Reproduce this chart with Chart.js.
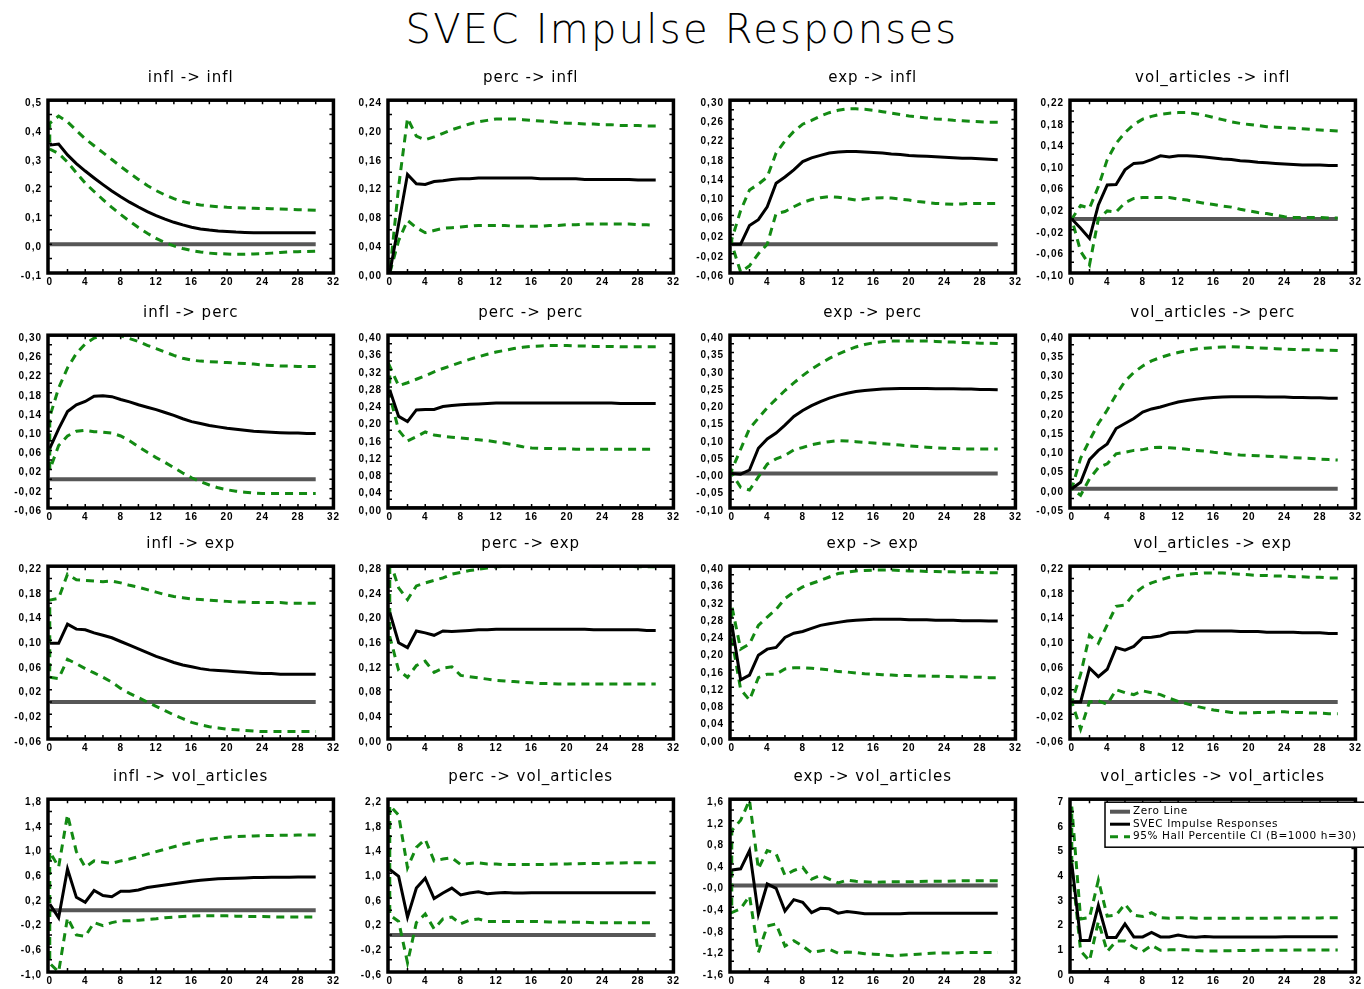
<!DOCTYPE html>
<html>
<head>
<meta charset="utf-8">
<title>SVEC Impulse Responses</title>
<script src="https://cdn.jsdelivr.net/npm/chart.js@4.4.1/dist/chart.umd.min.js"></script>
<style>
  html, body { margin: 0; padding: 0; background: #fff; }
  body { width: 1364px; height: 989px; position: relative; overflow: hidden; }
  #mainTitle {
    position: absolute; left: 0; top: 5px; width: 1364px; text-align: center;
    font-family: "DejaVu Sans ExtraLight", "DejaVu Sans", sans-serif; font-weight: 200;
    font-size: 40px; line-height: 48px; letter-spacing: 2.3px; color: #000;
  }
  canvas { position: absolute; }
</style>
</head>
<body>
<div id="mainTitle">SVEC Impulse Responses</div>
<script>
// ---- horizons and axis labels ----
const horizons = [0,1,2,3,4,5,6,7,8,9,10,11,12,13,14,15,16,17,18,19,20,21,22,23,24,25,26,27,28,29,30];
const xTickLabels = ['0','4','8','12','16','20','24','28','32'];
const variables = ['infl', 'perc', 'exp', 'vol_articles'];

// ---- y tick labels per response/impulse panel ----
const yTicks_infl_infl = ['-0,1','0,0','0,1','0,2','0,3','0,4','0,5'];
const yTicks_perc_infl = ['0,00','0,04','0,08','0,12','0,16','0,20','0,24'];
const yTicks_exp_infl  = ['-0,06','-0,02','0,02','0,06','0,10','0,14','0,18','0,22','0,26','0,30'];
const yTicks_vol_infl  = ['-0,10','-0,06','-0,02','0,02','0,06','0,10','0,14','0,18','0,22'];
const yTicks_infl_perc = ['-0,06','-0,02','0,02','0,06','0,10','0,14','0,18','0,22','0,26','0,30'];
const yTicks_perc_perc = ['0,00','0,04','0,08','0,12','0,16','0,20','0,24','0,28','0,32','0,36','0,40'];
const yTicks_exp_perc  = ['-0,10','-0,05','-0,00','0,05','0,10','0,15','0,20','0,25','0,30','0,35','0,40'];
const yTicks_vol_perc  = ['-0,05','0,00','0,05','0,10','0,15','0,20','0,25','0,30','0,35','0,40'];
const yTicks_infl_exp  = ['-0,06','-0,02','0,02','0,06','0,10','0,14','0,18','0,22'];
const yTicks_perc_exp  = ['0,00','0,04','0,08','0,12','0,16','0,20','0,24','0,28'];
const yTicks_exp_exp   = ['0,00','0,04','0,08','0,12','0,16','0,20','0,24','0,28','0,32','0,36','0,40'];
const yTicks_vol_exp   = ['-0,06','-0,02','0,02','0,06','0,10','0,14','0,18','0,22'];
const yTicks_infl_vol  = ['-1,0','-0,6','-0,2','0,2','0,6','1,0','1,4','1,8'];
const yTicks_perc_vol  = ['-0,6','-0,2','0,2','0,6','1,0','1,4','1,8','2,2'];
const yTicks_exp_vol   = ['-1,6','-1,2','-0,8','-0,4','-0,0','0,4','0,8','1,2','1,6'];
const yTicks_vol_vol   = ['0','1','2','3','4','5','6','7'];

// ---- impulse responses (impulse_response) and 95% Hall percentile bands ----
const irf_infl_infl  = [0.344,0.348,0.31,0.28,0.254,0.23,0.207,0.185,0.165,0.146, 0.129,0.113,0.099,0.087,0.076,0.067,0.059,0.053,0.049,0.046, 0.044,0.042,0.041,0.04,0.04,0.04,0.04,0.04,0.04,0.04, 0.04];
const ciHi_infl_infl = [0.42,0.445,0.425,0.395,0.366,0.342,0.318,0.294,0.27,0.247, 0.225,0.204,0.186,0.171,0.158,0.148,0.141,0.136,0.133,0.13, 0.128,0.127,0.126,0.125,0.124,0.123,0.122,0.121,0.12,0.119, 0.118];
const ciLo_infl_infl = [0.33,0.315,0.285,0.248,0.212,0.183,0.155,0.128,0.103,0.08, 0.058,0.038,0.02,0.006,-0.006,-0.015,-0.022,-0.027,-0.031,-0.033, -0.034,-0.035,-0.035,-0.034,-0.033,-0.031,-0.029,-0.027,-0.026,-0.025, -0.024];

const irf_perc_infl  = [0.0,0.068,0.137,0.124,0.123,0.127,0.128,0.13,0.131,0.131, 0.132,0.132,0.132,0.132,0.132,0.132,0.132,0.131,0.131,0.131, 0.131,0.131,0.13,0.13,0.13,0.13,0.13,0.13,0.129,0.129, 0.129];
const ciHi_perc_infl = [0.0,0.12,0.215,0.19,0.185,0.189,0.194,0.199,0.203,0.207, 0.21,0.212,0.214,0.214,0.214,0.213,0.212,0.211,0.21,0.209, 0.208,0.208,0.207,0.207,0.206,0.206,0.205,0.205,0.205,0.204, 0.204];
const ciLo_perc_infl = [0.0,0.045,0.073,0.063,0.056,0.059,0.062,0.063,0.064,0.065, 0.066,0.066,0.066,0.066,0.065,0.065,0.065,0.065,0.066,0.066, 0.067,0.067,0.068,0.068,0.068,0.068,0.068,0.068,0.067,0.067, 0.066];

const irf_exp_infl  = [0.0,0.0,0.039,0.051,0.078,0.127,0.14,0.155,0.172,0.18, 0.185,0.19,0.192,0.193,0.193,0.192,0.191,0.19,0.188,0.187, 0.185,0.184,0.183,0.182,0.181,0.18,0.179,0.179,0.178,0.177, 0.176];
const ciHi_exp_infl = [0.01,0.07,0.113,0.125,0.14,0.19,0.215,0.235,0.25,0.258, 0.267,0.274,0.279,0.282,0.282,0.281,0.279,0.276,0.273,0.27, 0.267,0.265,0.263,0.261,0.26,0.258,0.257,0.256,0.255,0.254, 0.254];
const ciLo_exp_infl = [0.0,-0.058,-0.045,-0.02,0.0,0.064,0.068,0.078,0.087,0.093, 0.097,0.099,0.098,0.095,0.092,0.094,0.096,0.097,0.096,0.094, 0.092,0.089,0.087,0.085,0.084,0.083,0.084,0.085,0.085,0.085, 0.085];

const irf_vol_infl  = [0.0,-0.017,-0.036,0.026,0.063,0.064,0.091,0.103,0.104,0.11, 0.117,0.115,0.117,0.117,0.116,0.115,0.113,0.111,0.11,0.108, 0.107,0.105,0.104,0.103,0.102,0.101,0.1,0.1,0.1,0.099, 0.099];
const ciHi_vol_infl = [0.0,0.025,0.02,0.06,0.11,0.14,0.16,0.175,0.185,0.19, 0.194,0.196,0.197,0.197,0.195,0.192,0.188,0.184,0.18,0.177, 0.175,0.173,0.171,0.17,0.169,0.168,0.167,0.166,0.165,0.164, 0.163];
const ciLo_vol_infl = [0.0,-0.06,-0.085,0.0,0.015,0.013,0.03,0.038,0.04,0.04, 0.04,0.04,0.037,0.035,0.032,0.029,0.027,0.024,0.022,0.018, 0.015,0.012,0.01,0.007,0.004,0.003,0.003,0.003,0.003,0.002, 0.002];

const irf_infl_perc  = [0.064,0.105,0.141,0.155,0.162,0.173,0.174,0.172,0.166,0.161, 0.155,0.15,0.145,0.139,0.133,0.126,0.12,0.116,0.112,0.109, 0.106,0.104,0.102,0.1,0.099,0.098,0.097,0.096,0.096,0.095, 0.095];
const ciHi_infl_perc = [0.13,0.19,0.232,0.262,0.282,0.294,0.3,0.302,0.299,0.293, 0.287,0.279,0.272,0.265,0.258,0.252,0.248,0.246,0.245,0.244, 0.243,0.242,0.241,0.24,0.238,0.237,0.236,0.236,0.235,0.235, 0.235];
const ciLo_infl_perc = [0.02,0.07,0.09,0.1,0.102,0.099,0.098,0.096,0.09,0.08, 0.068,0.056,0.045,0.035,0.024,0.013,0.003,-0.005,-0.012,-0.018, -0.022,-0.025,-0.027,-0.029,-0.03,-0.03,-0.03,-0.03,-0.03,-0.03, -0.03];

const irf_perc_perc  = [0.273,0.212,0.2,0.227,0.228,0.228,0.235,0.237,0.239,0.24, 0.241,0.242,0.243,0.243,0.243,0.243,0.243,0.243,0.243,0.243, 0.243,0.243,0.243,0.243,0.243,0.243,0.242,0.242,0.242,0.242, 0.242];
const ciHi_perc_perc = [0.328,0.283,0.29,0.298,0.306,0.315,0.323,0.33,0.337,0.344, 0.35,0.356,0.361,0.365,0.369,0.372,0.374,0.375,0.376,0.376, 0.376,0.375,0.375,0.374,0.374,0.374,0.373,0.373,0.373,0.373, 0.373];
const ciLo_perc_perc = [0.26,0.18,0.155,0.165,0.176,0.169,0.166,0.164,0.162,0.16, 0.158,0.156,0.153,0.15,0.146,0.142,0.139,0.138,0.138,0.137, 0.137,0.136,0.136,0.136,0.136,0.136,0.136,0.136,0.136,0.136, 0.136];

const irf_exp_perc  = [0.0,-0.002,0.01,0.073,0.1,0.117,0.14,0.165,0.182,0.196, 0.208,0.218,0.226,0.232,0.237,0.24,0.242,0.244,0.245,0.246, 0.246,0.246,0.246,0.245,0.245,0.245,0.244,0.244,0.243,0.243, 0.242];
const ciHi_exp_perc = [0.01,0.07,0.13,0.16,0.19,0.215,0.24,0.262,0.283,0.302, 0.318,0.333,0.345,0.356,0.366,0.373,0.378,0.381,0.383,0.383, 0.383,0.383,0.383,0.382,0.381,0.38,0.379,0.378,0.377,0.377, 0.376];
const ciLo_exp_perc = [0.0,-0.04,-0.048,-0.01,0.027,0.042,0.052,0.068,0.075,0.083, 0.088,0.092,0.095,0.094,0.092,0.09,0.088,0.086,0.084,0.082, 0.08,0.078,0.076,0.074,0.073,0.072,0.071,0.071,0.071,0.071, 0.071];

const irf_vol_perc  = [0.0,0.017,0.076,0.1,0.117,0.157,0.17,0.183,0.2,0.208, 0.213,0.22,0.226,0.23,0.233,0.236,0.238,0.239,0.24,0.24, 0.24,0.24,0.239,0.239,0.239,0.238,0.238,0.237,0.237,0.236, 0.236];
const ciHi_vol_perc = [0.0,0.08,0.126,0.17,0.205,0.245,0.28,0.303,0.32,0.333, 0.342,0.349,0.355,0.36,0.364,0.366,0.368,0.369,0.37,0.369, 0.368,0.367,0.366,0.365,0.364,0.363,0.362,0.362,0.361,0.361, 0.36];
const ciLo_vol_perc = [0.0,-0.017,0.026,0.055,0.065,0.091,0.095,0.1,0.102,0.107, 0.108,0.107,0.105,0.103,0.1,0.098,0.095,0.093,0.09,0.088, 0.087,0.086,0.085,0.084,0.083,0.081,0.08,0.079,0.077,0.076, 0.075];

const irf_infl_exp  = [0.095,0.095,0.126,0.118,0.117,0.112,0.108,0.104,0.098,0.092, 0.086,0.08,0.074,0.069,0.064,0.06,0.057,0.054,0.052,0.051, 0.05,0.049,0.048,0.047,0.046,0.046,0.045,0.045,0.045,0.045, 0.045];
const ciHi_infl_exp = [0.165,0.168,0.207,0.198,0.197,0.196,0.195,0.196,0.193,0.189, 0.186,0.182,0.178,0.174,0.171,0.169,0.167,0.166,0.165,0.164, 0.163,0.162,0.162,0.161,0.161,0.161,0.161,0.16,0.16,0.16, 0.16];
const ciLo_infl_exp = [0.04,0.038,0.069,0.062,0.054,0.047,0.04,0.032,0.022,0.014, 0.007,0.0,-0.007,-0.014,-0.021,-0.027,-0.033,-0.037,-0.04,-0.042, -0.044,-0.045,-0.046,-0.047,-0.048,-0.048,-0.048,-0.048,-0.048,-0.048, -0.048];

const irf_perc_exp  = [0.205,0.156,0.148,0.175,0.172,0.168,0.175,0.174,0.175,0.176, 0.177,0.177,0.178,0.178,0.178,0.178,0.178,0.178,0.178,0.178, 0.178,0.178,0.178,0.177,0.177,0.177,0.177,0.177,0.177,0.176, 0.176];
const ciHi_perc_exp = [0.29,0.245,0.226,0.248,0.253,0.257,0.261,0.267,0.27,0.273, 0.275,0.277,0.279,0.28,0.281,0.281,0.282,0.282,0.282,0.281, 0.281,0.281,0.281,0.28,0.28,0.28,0.28,0.28,0.279,0.279, 0.279];
const ciLo_perc_exp = [0.166,0.111,0.1,0.119,0.126,0.108,0.115,0.117,0.103,0.101, 0.099,0.097,0.095,0.094,0.093,0.092,0.091,0.09,0.09,0.089, 0.089,0.089,0.089,0.089,0.089,0.089,0.089,0.089,0.089,0.089, 0.089];

const irf_exp_exp  = [0.266,0.137,0.148,0.194,0.208,0.212,0.235,0.245,0.249,0.256, 0.263,0.267,0.27,0.273,0.275,0.276,0.277,0.277,0.277,0.277, 0.276,0.276,0.276,0.275,0.275,0.275,0.274,0.274,0.274,0.273, 0.273];
const ciHi_exp_exp = [0.308,0.208,0.22,0.263,0.282,0.3,0.325,0.34,0.352,0.36, 0.367,0.375,0.383,0.386,0.389,0.39,0.391,0.391,0.391,0.39, 0.389,0.389,0.388,0.388,0.387,0.387,0.386,0.386,0.386,0.385, 0.385];
const ciLo_exp_exp = [0.232,0.115,0.09,0.142,0.15,0.15,0.162,0.165,0.165,0.164, 0.162,0.16,0.156,0.155,0.153,0.151,0.15,0.149,0.148,0.147, 0.147,0.146,0.146,0.145,0.145,0.144,0.144,0.143,0.143,0.142, 0.142];

const irf_vol_exp  = [0.0,0.0,0.055,0.041,0.053,0.088,0.084,0.09,0.104,0.105, 0.107,0.112,0.113,0.113,0.115,0.115,0.115,0.115,0.115,0.114, 0.114,0.114,0.113,0.113,0.113,0.113,0.112,0.112,0.112,0.111, 0.111];
const ciHi_vol_exp = [0.0,0.045,0.108,0.095,0.125,0.155,0.157,0.175,0.186,0.193, 0.198,0.202,0.205,0.207,0.208,0.209,0.209,0.209,0.208,0.207, 0.206,0.205,0.205,0.204,0.204,0.203,0.203,0.202,0.202,0.201, 0.201];
const ciLo_vol_exp = [0.0,-0.044,0.0,0.002,-0.004,0.02,0.015,0.012,0.018,0.015, 0.012,0.006,0.001,-0.003,-0.007,-0.01,-0.013,-0.015,-0.017,-0.018, -0.018,-0.017,-0.017,-0.016,-0.016,-0.017,-0.017,-0.018,-0.018,-0.019, -0.019];

const irf_infl_vol  = [0.1,-0.12,0.67,0.21,0.13,0.32,0.24,0.22,0.31,0.31, 0.33,0.37,0.39,0.41,0.43,0.45,0.47,0.485,0.5,0.51, 0.515,0.52,0.525,0.53,0.53,0.535,0.535,0.535,0.54,0.54, 0.54];
const ciHi_infl_vol = [0.95,0.7,1.55,0.95,0.7,0.8,0.78,0.76,0.8,0.83, 0.87,0.91,0.95,0.99,1.03,1.07,1.1,1.13,1.15,1.17, 1.185,1.195,1.2,1.205,1.21,1.21,1.215,1.215,1.22,1.22, 1.22];
const ciLo_infl_vol = [-0.86,-1.0,-0.12,-0.4,-0.42,-0.2,-0.25,-0.2,-0.17,-0.17, -0.16,-0.15,-0.137,-0.12,-0.11,-0.1,-0.093,-0.09,-0.09,-0.09, -0.09,-0.095,-0.1,-0.1,-0.1,-0.105,-0.11,-0.11,-0.11,-0.11, -0.11];

const irf_perc_vol  = [1.06,0.95,0.29,0.76,0.92,0.59,0.68,0.76,0.65,0.68, 0.7,0.67,0.68,0.69,0.68,0.68,0.685,0.685,0.685,0.685, 0.685,0.685,0.685,0.685,0.685,0.685,0.685,0.685,0.685,0.685, 0.685];
const ciHi_perc_vol = [2.1,1.94,1.09,1.42,1.55,1.2,1.23,1.25,1.14,1.16, 1.17,1.15,1.15,1.14,1.14,1.14,1.14,1.14,1.145,1.15, 1.15,1.155,1.16,1.16,1.16,1.165,1.165,1.17,1.17,1.17, 1.17];
const ciLo_perc_vol = [0.32,0.22,-0.45,0.2,0.34,0.1,0.26,0.29,0.18,0.24, 0.26,0.22,0.22,0.22,0.22,0.22,0.22,0.215,0.21,0.21, 0.21,0.205,0.205,0.2,0.2,0.2,0.2,0.2,0.2,0.2, 0.2];

const irf_exp_vol  = [0.29,0.31,0.65,-0.53,0.03,-0.05,-0.47,-0.26,-0.31,-0.5, -0.42,-0.43,-0.51,-0.48,-0.5,-0.52,-0.52,-0.52,-0.52,-0.52, -0.51,-0.51,-0.51,-0.51,-0.51,-0.51,-0.51,-0.51,-0.51,-0.51, -0.51];
const ciHi_exp_vol = [1.02,1.21,1.58,0.31,0.65,0.59,0.19,0.28,0.34,0.12, 0.19,0.12,0.05,0.1,0.08,0.07,0.06,0.065,0.07,0.07, 0.07,0.075,0.08,0.08,0.08,0.085,0.09,0.09,0.09,0.09, 0.09];
const ciLo_exp_vol = [-0.5,-0.43,-0.19,-1.24,-0.75,-0.71,-1.12,-1.02,-1.12,-1.24, -1.21,-1.18,-1.25,-1.23,-1.24,-1.26,-1.27,-1.28,-1.3,-1.29, -1.28,-1.27,-1.26,-1.25,-1.25,-1.25,-1.24,-1.24,-1.24,-1.24, -1.24];

const irf_vol_vol  = [4.4,1.28,1.28,2.7,1.4,1.4,1.95,1.42,1.42,1.6, 1.42,1.42,1.5,1.43,1.41,1.44,1.42,1.42,1.42,1.42, 1.42,1.42,1.42,1.42,1.43,1.43,1.43,1.43,1.43,1.43, 1.43];
const ciHi_vol_vol = [6.7,2.15,2.2,3.72,2.26,2.3,2.75,2.3,2.25,2.4, 2.2,2.18,2.2,2.2,2.18,2.18,2.18,2.18,2.18,2.18, 2.18,2.18,2.18,2.19,2.19,2.19,2.19,2.19,2.19,2.2, 2.2];
const ciLo_vol_vol = [4.3,0.85,0.45,2.05,0.83,1.25,1.26,1.0,0.83,1.08, 0.88,0.9,0.9,0.9,0.87,0.85,0.85,0.86,0.86,0.87, 0.87,0.88,0.88,0.88,0.88,0.89,0.89,0.89,0.89,0.89, 0.89];

// ---- grid of panels: rows = response, columns = impulse ----
const panels = [
  { impulse: 0, response: 0, irf: irf_infl_infl, lo: ciLo_infl_infl, hi: ciHi_infl_infl, ticks: yTicks_infl_infl },
  { impulse: 1, response: 0, irf: irf_perc_infl, lo: ciLo_perc_infl, hi: ciHi_perc_infl, ticks: yTicks_perc_infl },
  { impulse: 2, response: 0, irf: irf_exp_infl,  lo: ciLo_exp_infl,  hi: ciHi_exp_infl,  ticks: yTicks_exp_infl },
  { impulse: 3, response: 0, irf: irf_vol_infl,  lo: ciLo_vol_infl,  hi: ciHi_vol_infl,  ticks: yTicks_vol_infl },
  { impulse: 0, response: 1, irf: irf_infl_perc, lo: ciLo_infl_perc, hi: ciHi_infl_perc, ticks: yTicks_infl_perc },
  { impulse: 1, response: 1, irf: irf_perc_perc, lo: ciLo_perc_perc, hi: ciHi_perc_perc, ticks: yTicks_perc_perc },
  { impulse: 2, response: 1, irf: irf_exp_perc,  lo: ciLo_exp_perc,  hi: ciHi_exp_perc,  ticks: yTicks_exp_perc },
  { impulse: 3, response: 1, irf: irf_vol_perc,  lo: ciLo_vol_perc,  hi: ciHi_vol_perc,  ticks: yTicks_vol_perc },
  { impulse: 0, response: 2, irf: irf_infl_exp,  lo: ciLo_infl_exp,  hi: ciHi_infl_exp,  ticks: yTicks_infl_exp },
  { impulse: 1, response: 2, irf: irf_perc_exp,  lo: ciLo_perc_exp,  hi: ciHi_perc_exp,  ticks: yTicks_perc_exp },
  { impulse: 2, response: 2, irf: irf_exp_exp,   lo: ciLo_exp_exp,   hi: ciHi_exp_exp,   ticks: yTicks_exp_exp },
  { impulse: 3, response: 2, irf: irf_vol_exp,   lo: ciLo_vol_exp,   hi: ciHi_vol_exp,   ticks: yTicks_vol_exp },
  { impulse: 0, response: 3, irf: irf_infl_vol,  lo: ciLo_infl_vol,  hi: ciHi_infl_vol,  ticks: yTicks_infl_vol },
  { impulse: 1, response: 3, irf: irf_perc_vol,  lo: ciLo_perc_vol,  hi: ciHi_perc_vol,  ticks: yTicks_perc_vol },
  { impulse: 2, response: 3, irf: irf_exp_vol,   lo: ciLo_exp_vol,   hi: ciHi_exp_vol,   ticks: yTicks_exp_vol },
  { impulse: 3, response: 3, irf: irf_vol_vol,   lo: ciLo_vol_vol,   hi: ciHi_vol_vol,   ticks: yTicks_vol_vol }
];

// ---- page layout of the plot boxes ----
const colLeft = [48, 388, 730, 1070];
const rowTop = [99, 334, 565, 798];
const boxW = 287, boxH = 174;
const yAxisW = 48, titleH = 36, xAxisH = 18, padRight = 7;

const ZERO_COLOR = '#575757';
const IRF_COLOR = '#000000';
const CI_COLOR = '#138a13';

const parseTick = s => parseFloat(s.replace(',', '.'));
const xTickValues = xTickLabels.map(parseTick);

// slightly wider glyph spacing for all chart text
const spacingPlugin = {
  id: 'glyphSpacing',
  beforeDraw(chart) { chart.ctx.letterSpacing = '1px'; }
};

// heavy frame around the plot area with small inward tick marks on all sides
const framePlugin = {
  id: 'frameBox',
  afterDraw(chart) {
    const { ctx, chartArea: a, scales } = chart;
    const xs = scales.x, ys = scales.y;
    const tickLen = 4;
    ctx.save();
    ctx.letterSpacing = '0px';
    ctx.strokeStyle = '#000';
    ctx.lineWidth = 1.5;
    ctx.beginPath();
    const xv = xs.ticks.map(t => t.value);
    const xMarks = [];
    for (let i = 0; i < xv.length; i++) {
      xMarks.push(xv[i]);
      if (i < xv.length - 1) xMarks.push((xv[i] + xv[i + 1]) / 2);
    }
    xMarks.forEach(v => {
      const px = xs.getPixelForValue(v);
      if (px <= a.left + 3 || px >= a.right - 3) return;
      ctx.moveTo(px, a.bottom); ctx.lineTo(px, a.bottom - tickLen);
      ctx.moveTo(px, a.top); ctx.lineTo(px, a.top + tickLen);
    });
    const yv = ys.ticks.map(t => t.value);
    const yMarks = [];
    for (let i = 0; i < yv.length; i++) {
      yMarks.push(yv[i]);
      if (i < yv.length - 1) yMarks.push((yv[i] + yv[i + 1]) / 2);
    }
    yMarks.forEach(v => {
      const py = ys.getPixelForValue(v);
      if (py <= a.top + 3 || py >= a.bottom - 3) return;
      ctx.moveTo(a.left, py); ctx.lineTo(a.left + tickLen, py);
      ctx.moveTo(a.right, py); ctx.lineTo(a.right - tickLen, py);
    });
    ctx.stroke();
    ctx.lineWidth = 3.5;
    ctx.strokeRect(a.left, a.top, a.right - a.left, a.bottom - a.top);
    ctx.restore();
  }
};

// legend box drawn inside the top-right corner of the last panel
const insetLegendPlugin = {
  id: 'insetLegend',
  afterDraw(chart) {
    const { ctx, chartArea: a } = chart;
    const left = a.left + 35, top = a.top + 3, h = 45;
    ctx.save();
    ctx.fillStyle = '#fff';
    ctx.fillRect(left, top, chart.width - left + 5, h);
    ctx.strokeStyle = '#000';
    ctx.lineWidth = 1.5;
    ctx.strokeRect(left, top, chart.width - left + 10, h);
    ctx.font = '500 10.5px "DejaVu Sans"';
    ctx.letterSpacing = '0.6px';
    ctx.textBaseline = 'middle';
    ctx.textAlign = 'left';
    chart.data.datasets.forEach((ds, i) => {
      const yy = top + 9.5 + i * 12.5;
      ctx.save();
      ctx.strokeStyle = ds.borderColor;
      ctx.lineWidth = ds.borderWidth;
      ctx.setLineDash(ds.borderDash || []);
      ctx.beginPath();
      ctx.moveTo(left + 5, yy);
      ctx.lineTo(left + 25, yy);
      ctx.stroke();
      ctx.restore();
      ctx.fillStyle = '#000';
      ctx.fillText(ds.label, left + 28, yy);
    });
    ctx.restore();
  }
};

panels.forEach((p, k) => {
  const col = p.impulse, row = p.response;
  const canvas = document.createElement('canvas');
  const cw = yAxisW + boxW + padRight, ch = titleH + boxH + xAxisH;
  canvas.width = cw; canvas.height = ch;
  canvas.style.width = cw + 'px'; canvas.style.height = ch + 'px';
  canvas.style.left = (colLeft[col] - yAxisW) + 'px';
  canvas.style.top = (rowTop[row] - titleH) + 'px';
  document.body.appendChild(canvas);

  const yValues = p.ticks.map(parseTick);
  const irfPoints = horizons.map((h, i) => ({ x: h, y: p.irf[i] }));
  const zeroPoints = horizons.map(h => ({ x: h, y: 0 }));
  // band drawn as one path: upper bound backwards, then lower bound forwards
  const upperBack = horizons.map((h, i) => ({ x: h, y: p.hi[i] })).reverse();
  const lowerFwd = horizons.map((h, i) => ({ x: h, y: p.lo[i] }));
  const bandPoints = upperBack.concat(lowerFwd);

  const plugins = [spacingPlugin, framePlugin];
  if (k === panels.length - 1) plugins.push(insetLegendPlugin);

  new Chart(canvas, {
    type: 'scatter',
    data: {
      datasets: [
        { label: 'Zero Line', data: zeroPoints, showLine: true, borderColor: ZERO_COLOR, borderWidth: 4,
          pointRadius: 0, order: 3 },
        { label: 'SVEC Impulse Responses', data: irfPoints, showLine: true, borderColor: IRF_COLOR, borderWidth: 3,
          pointRadius: 0, order: 1 },
        { label: '95% Hall Percentile CI (B=1000 h=30)', data: bandPoints, showLine: true, borderColor: CI_COLOR,
          borderWidth: 3, borderDash: [8, 6], pointRadius: 0, order: 2 }
      ]
    },
    options: {
      responsive: false,
      animation: false,
      devicePixelRatio: 1,
      events: [],
      layout: { padding: { left: 0, right: padRight, top: 0, bottom: 0 }, autoPadding: false },
      plugins: {
        legend: { display: false },
        tooltip: { enabled: false },
        title: {
          display: true,
          text: variables[p.impulse] + ' -> ' + variables[p.response],
          fullSize: false,
          color: '#000',
          font: { family: 'DejaVu Sans', size: 15, weight: 'normal', lineHeight: 1.2 },
          padding: { top: 6.6, bottom: 12.6 }
        }
      },
      scales: {
        x: {
          type: 'linear',
          min: -0.2,
          max: xTickValues[xTickValues.length - 1],
          afterBuildTicks: s => { s.ticks = xTickValues.map(v => ({ value: v })); },
          afterFit: s => { s.height = xAxisH; },
          grid: { display: false, drawTicks: false },
          border: { display: false },
          ticks: {
            autoSkip: false, maxRotation: 0, padding: 3, color: '#000',
            font: { family: 'Liberation Sans', size: 10, weight: 'bold' },
            callback: (v, i) => xTickLabels[i]
          }
        },
        y: {
          type: 'linear',
          min: yValues[0],
          max: yValues[yValues.length - 1],
          afterBuildTicks: s => { s.ticks = yValues.map(v => ({ value: v })); },
          afterFit: s => { s.width = yAxisW; },
          grid: { display: false, drawTicks: false },
          border: { display: false },
          ticks: {
            autoSkip: false, padding: 6, labelOffset: 3, color: '#000',
            font: { family: 'Liberation Sans', size: 10, weight: 'bold' },
            callback: (v, i) => p.ticks[i]
          }
        }
      }
    },
    plugins: plugins
  });
});
</script>
</body>
</html>
